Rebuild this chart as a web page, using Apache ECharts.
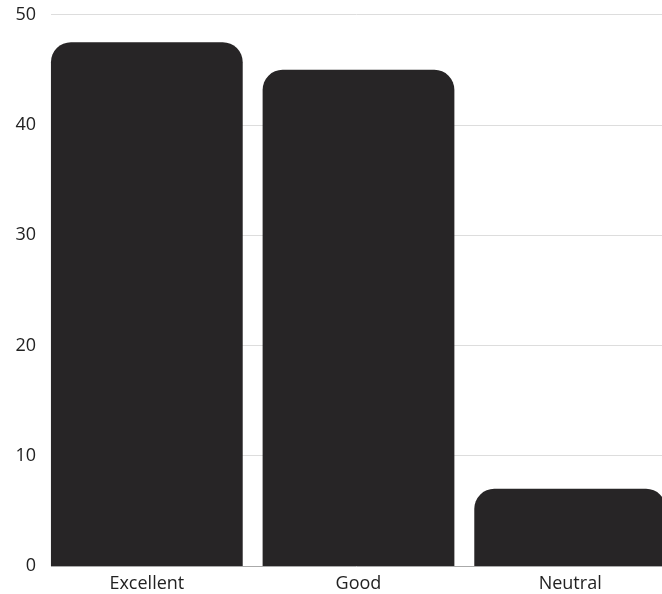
<!DOCTYPE html>
<html><head><meta charset="utf-8">
<script src="https://cdn.jsdelivr.net/npm/echarts@6/dist/echarts.min.js"></script>
<style>html,body{margin:0;padding:0;background:#fff;overflow:hidden}#c{width:676px;height:594px}</style>
</head><body><div id="c"></div>
<script>
const categories = ['Excellent', 'Good', 'Neutral'];
const values = [47.5, 45, 7];
const yTicks = [0, 10, 20, 30, 40, 50];

const chart = echarts.init(document.getElementById('c'));
const font = '"Open Sans", "Noto Sans", sans-serif';
chart.setOption({
  animation: false,
  grid: [
    { left: 41, right: 0, top: 14.7, bottom: 28, containLabel: false },
    { left: 51, right: 14, top: 14.7, bottom: 28, containLabel: false }
  ],
  xAxis: [
    { type: 'category', gridIndex: 0, data: categories,
      axisLine: { show: false }, axisTick: { show: false },
      axisLabel: { color: '#222', fontSize: 18, fontFamily: font, margin: 9 } },
    { type: 'category', gridIndex: 1, data: categories, show: false }
  ],
  yAxis: [
    { type: 'value', gridIndex: 0, min: 0, max: 50, interval: 10, show: false, splitLine: { show: false } },
    { type: 'value', gridIndex: 1, min: yTicks[0], max: yTicks[yTicks.length - 1], interval: 10,
      axisLine: { show: false }, axisTick: { show: false },
      axisLabel: { color: '#222', fontSize: 18, fontFamily: font, margin: 15 },
      splitLine: { lineStyle: { color: ['#aaaaaa', '#dddddd', '#dddddd', '#dddddd', '#dddddd', '#dddddd'], width: 1 } } }
  ],
  series: [{
    type: 'bar', xAxisIndex: 0, yAxisIndex: 0, data: values,
    barCategoryGap: '9.4%',
    itemStyle: { color: '#272526', borderRadius: [20, 20, 0, 0] },
    z: 3
  }]
});
</script></body></html>
